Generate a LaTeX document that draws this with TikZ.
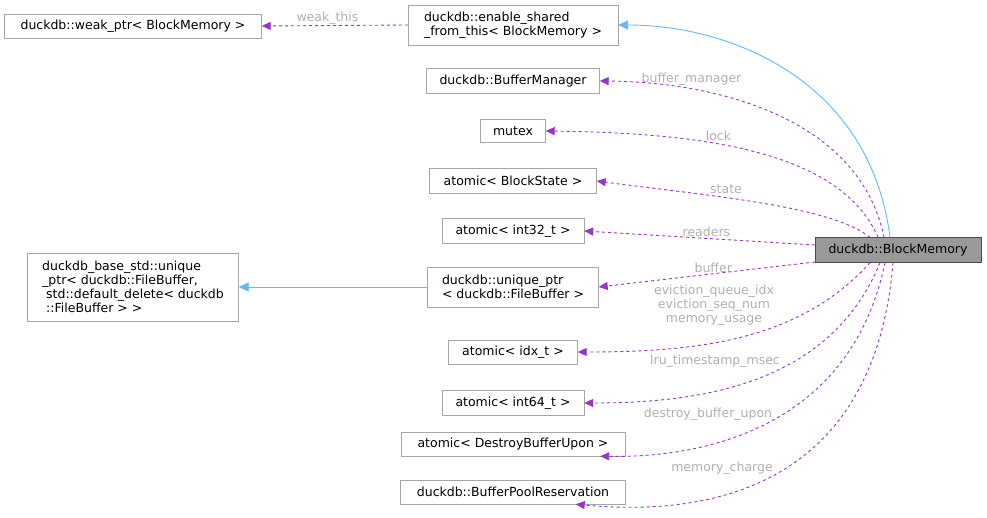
\documentclass[tikz,border=0pt]{standalone}
\usepackage{fontspec}
\setmainfont{DejaVu Sans}
\usetikzlibrary{arrows.meta,positioning}
\definecolor{mbr}{HTML}{9A32CD}
\definecolor{inh}{HTML}{63B8FF}
\definecolor{lbl}{HTML}{B0B0B0}
\tikzset{
  cls/.style={draw=black!35,fill=white,font=\fontsize{12.5}{14}\selectfont,inner sep=1pt,align=center},
  mem/.style={draw=mbr,dashed,line width=0.9pt,-{Triangle[length=9pt,width=8pt]}},
  base/.style={draw=inh,line width=0.9pt,-{Triangle[length=10pt,width=9pt,open,fill=inh]}},
  lab/.style={text=lbl,font=\fontsize{12.5}{14}\selectfont,align=center,inner sep=1pt}
}
\begin{document}
\begin{tikzpicture}[x=1pt,y=-1pt]
\useasboundingbox (0,0) rectangle (987,518);
% classes
\node[cls,minimum width=257,minimum height=24] (weak) at (133,26) {duckdb::weak\_ptr< BlockMemory >};
\node[cls,minimum width=210,minimum height=40,align=left] (esft) at (513,25) {duckdb::enable\_shared\\\_from\_this< BlockMemory >};
\node[cls,minimum width=173,minimum height=25] (bm) at (513,81) {duckdb::BufferManager};
\node[cls,minimum width=65,minimum height=23] (mtx) at (513,131) {mutex};
\node[cls,minimum width=167,minimum height=25] (abs) at (513,181) {atomic< BlockState >};
\node[cls,minimum width=142,minimum height=25] (a32) at (513,231) {atomic< int32\_t >};
\node[cls,fill=black!40,draw=black!70,minimum width=166,minimum height=25] (blk) at (898,250) {duckdb::BlockMemory};
\node[cls,minimum width=211,minimum height=68,align=left] (ubase) at (133,287) {duckdb\_base\_std::unique\\\_ptr< duckdb::FileBuffer,\\\ std::default\_delete< duckdb\\\ ::FileBuffer > >};
\node[cls,minimum width=171,minimum height=40,align=left] (uptr) at (513,287) {duckdb::unique\_ptr\\< duckdb::FileBuffer >};
\node[cls,minimum width=129,minimum height=24] (aidx) at (513,352) {atomic< idx\_t >};
\node[cls,minimum width=142,minimum height=25] (a64) at (513,403) {atomic< int64\_t >};
\node[cls,minimum width=224,minimum height=24] (ady) at (513,444) {atomic< DestroyBufferUpon >};
\node[cls,minimum width=225,minimum height=24] (bpr) at (513,492) {duckdb::BufferPoolReservation};
% inheritance
\draw[base] (blk.north) ++(-8,0) .. controls (870,80) and (730,25) .. (esft.east);
\draw[base] (uptr.west) -- (ubase.east);
% members
\draw[mem] (esft.west) -- (weak.east) node[lab,pos=0.55,above] {weak\_this};
\draw[mem] (blk.north) ++(-14,0) .. controls (860,120) and (720,82) .. (bm.east) node[lab,pos=0.75,above=2pt] {buffer\_manager};
\draw[mem] (blk.north) ++(-20,0) .. controls (840,150) and (700,133) .. (mtx.east) node[lab,pos=0.6,above=2pt] {lock};
\draw[mem] (blk.north) ++(-28,0) .. controls (830,205) and (700,195) .. (abs.east) node[lab,pos=0.6,above=2pt] {state};
\draw[mem] (blk.west) ++(0,-5) -- (a32.east) node[lab,pos=0.47,above] {readers};
\draw[mem] (blk.west) ++(0,12) -- (uptr.east) node[lab,pos=0.47,above] {buffer};
\draw[mem] (blk.south) ++(-28,0) .. controls (800,340) and (700,352) .. (aidx.east);
\node[lab] at (714,305) {eviction\_queue\_idx\\eviction\_seq\_num\\memory\_usage};
\draw[mem] (blk.south) ++(-18,0) .. controls (830,385) and (700,403) .. (a64.east);
\node[lab] at (715,361) {lru\_timestamp\_msec};
\draw[mem] (blk.south) ++(-13,0) .. controls (850,430) and (700,458) .. ([xshift=-25pt]ady.south east);
\node[lab] at (708,414) {destroy\_buffer\_upon};
\draw[mem] (blk.south) ++(-5,0) .. controls (875,480) and (720,518) .. ([xshift=-50pt]bpr.south east);
\node[lab] at (722,468) {memory\_charge};
\end{tikzpicture}
\end{document}
